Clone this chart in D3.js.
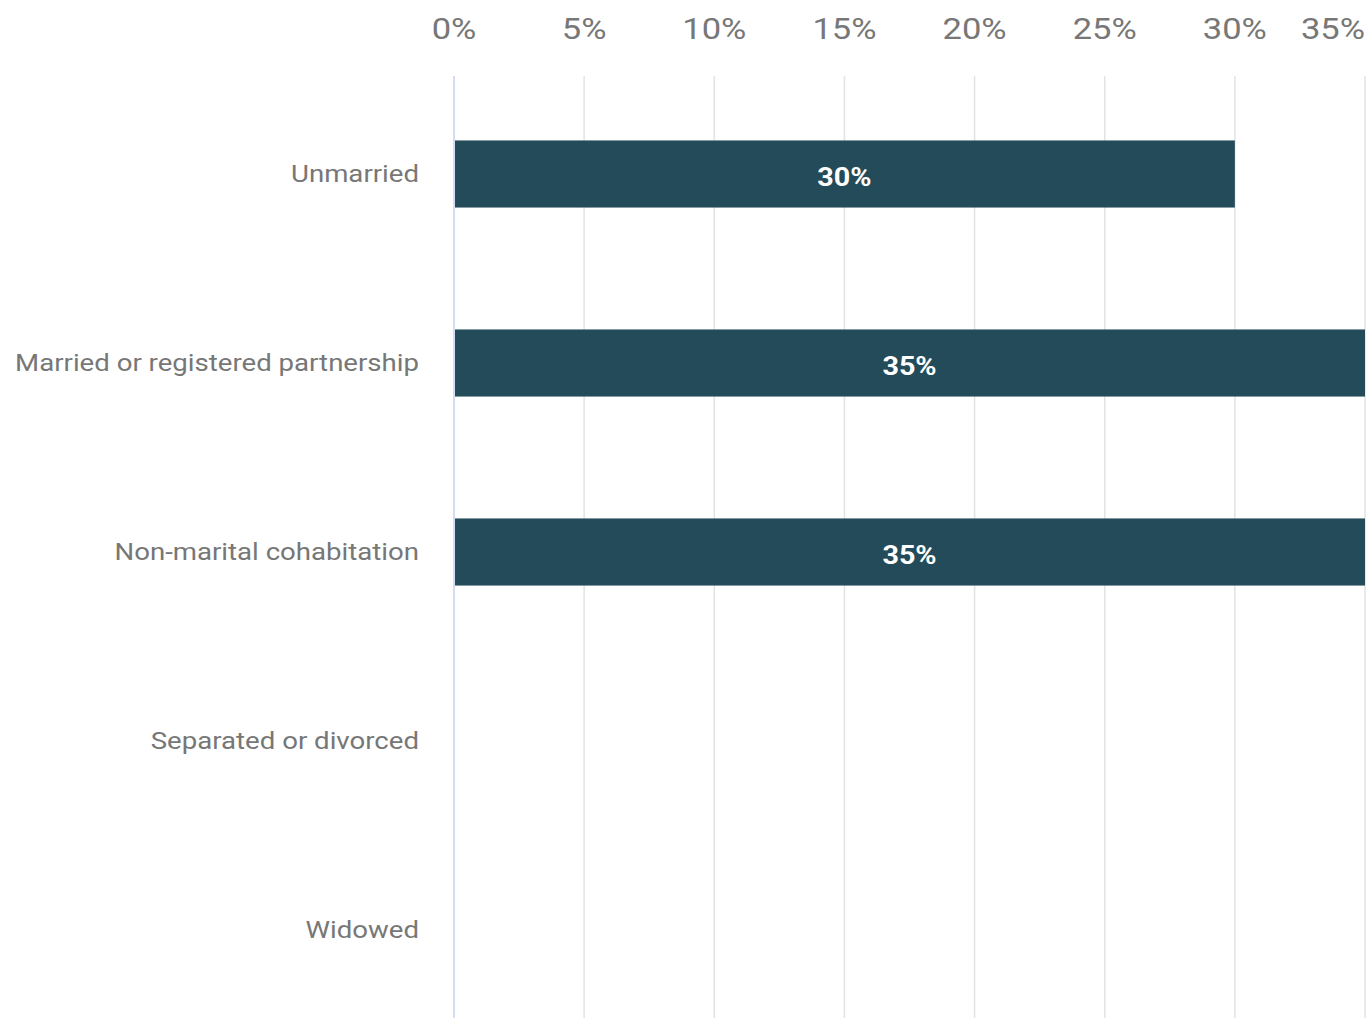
<!DOCTYPE html>
<html><head><meta charset="utf-8">
<script src="https://cdn.jsdelivr.net/npm/d3@7"></script>
<style>body{margin:0;background:#fff}svg{display:block}</style>
</head><body>
<script>
const categories = ["Unmarried","Married or registered partnership","Non-marital cohabitation","Separated or divorced","Widowed"];
const values = [30, 35, 35, 0, 0];
const tickValues = [0,5,10,15,20,25,30,35];

const W = 1369, H = 1018;
const SX = 1.15;
const svg = d3.select("body").append("svg").attr("width", W).attr("height", H);
const x = d3.scaleLinear().domain([0,35]).range([454, 1365]);
const y = d3.scaleBand().domain(categories).range([79.5, 1024.5]).paddingInner(0.645).paddingOuter(0.3225);
const font = "Roboto, Arial, sans-serif";

// gridlines
svg.append("g").selectAll("line").data(tickValues).join("line")
  .attr("x1", d => x(d)).attr("x2", d => x(d))
  .attr("y1", 76).attr("y2", H)
  .attr("stroke", d => d === 0 ? "#c8cff0" : "#e3e3e3")
  .attr("stroke-width", 1.5);

// top tick labels
svg.append("g").selectAll("text").data(tickValues).join("text")
  .attr("transform", d => `translate(${x(d)},39) scale(${SX},1)`)
  .attr("text-anchor", d => d === 35 ? "end" : "middle")
  .attr("font-family", font).attr("font-size", 30).attr("fill", "#777777")
  .text(d => d + "%");

// category labels
svg.append("g").selectAll("text").data(categories).join("text")
  .attr("transform", d => `translate(419,${y(d) + y.bandwidth()/2}) scale(${SX},1)`)
  .attr("dy", "0.35em").attr("text-anchor", "end")
  .attr("font-family", font).attr("font-size", 24).attr("fill", "#777777")
  .text(d => d);

// bars
const data = categories.map((c,i) => ({c, v: values[i]}));
svg.append("g").selectAll("rect").data(data.filter(d => d.v > 0)).join("rect")
  .attr("x", x(0) + 1).attr("y", d => y(d.c))
  .attr("width", d => x(d.v) - x(0) - 1).attr("height", y.bandwidth())
  .attr("fill", "#234b59");

svg.append("g").selectAll("text").data(data.filter(d => d.v > 0)).join("text")
  .attr("transform", d => `translate(${(x(0) + x(d.v))/2},${y(d.c) + y.bandwidth()/2 + 3}) scale(${SX},1)`)
  .attr("dy", "0.35em").attr("text-anchor", "middle")
  .attr("font-family", font).attr("font-size", 25).attr("font-weight", "bold").attr("fill", "#ffffff")
  .text(d => d.v + "%");
</script>
</body></html>
